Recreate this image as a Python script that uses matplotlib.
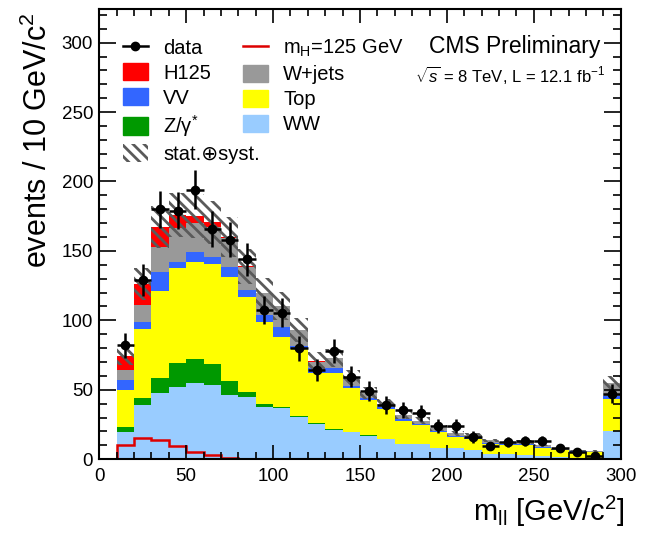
import numpy as np
import matplotlib.pyplot as plt
from matplotlib.lines import Line2D
from matplotlib.patches import Patch
from matplotlib.ticker import MultipleLocator

plt.rcParams['font.family'] = ['Liberation Sans', 'DejaVu Sans']
plt.rcParams['mathtext.fontset'] = 'custom'
plt.rcParams['mathtext.rm'] = 'Liberation Sans'
plt.rcParams['mathtext.it'] = 'Liberation Sans:italic'
plt.rcParams['hatch.linewidth'] = 2.0

# m_ll bins, 10 GeV wide, 0..300 (last bin holds the overflow)
edges = np.arange(0, 310, 10)

# background / signal yields per bin
ww = [0, 19.8, 39.1, 47.5, 51.8, 55.1, 53.5, 46.3, 45.0, 37.8,
      36.7, 30.5, 25.7, 21.4, 19.4, 16.8, 14.3, 10.8, 10.8, 7.8,
      7.8, 6.5, 4.1, 3.6, 2.9, 2.1, 1.6, 1.2, 1.0, 20.2]
zgamma = [0, 3.2, 4.9, 11.3, 17.3, 17.1, 14.9, 10.1, 3.6, 1.8,
          1.1, 0.6, 0.5, 0.4, 0.3, 0.3, 0.2, 0.2, 0.1, 0.1,
          0, 0, 0, 0, 0, 0, 0, 0, 0, 0]
top = [0, 26.9, 49.6, 62.4, 68.5, 70.1, 72.0, 75.1, 68.5, 59.5,
       50.0, 48.3, 36.2, 40.2, 31.3, 25.6, 21.4, 16.8, 13.8, 11.6,
       7.9, 8.0, 7.2, 6.5, 7.2, 6.3, 4.9, 4.3, 4.1, 23.2]
vv = [0, 7.3, 5.5, 13.3, 4.7, 7.2, 5.5, 6.8, 4.8, 4.9,
      7.2, 2.4, 3.1, 3.5, 2.0, 1.4, 1.4, 1.2, 0.7, 0.9,
      0.7, 0.8, 0.6, 0.7, 1.1, 0.5, 0.4, 0.3, 0.3, 2.4]
wjets = [0, 7.1, 12.0, 18.6, 24.1, 20.4, 21.6, 20.8, 16.7, 15.5,
         15.0, 11.0, 4.8, 7.5, 6.0, 3.4, 2.4, 2.8, 2.4, 1.9,
         2.2, 2.0, 1.8, 1.7, 1.2, 1.2, 0.8, 0.6, 0.5, 8.8]
h125 = [0, 10.2, 15.0, 14.0, 9.5, 5.5, 3.0, 1.0, 0.4, 0.3,
        0.2, 0.2, 0.5, 0.1, 0.1, 0.1, 0, 0, 0, 0,
        0, 0, 0, 0, 0, 0, 0, 0, 0, 0.2]
data = [0, 82, 129, 180, 179, 194, 166, 158, 144, 107.5,
        105.5, 80, 64, 78, 59.5, 49, 39, 35.5, 33.5, 24,
        24, 16, 9.4, 12.2, 13.2, 13.2, 8.1, 5.3, 2.4, 47]

syst_rel = 0.09  # half-width of the stat+syst band, relative

fig = plt.figure(figsize=(6.49, 5.34), dpi=100)
ax = fig.add_axes([0.153, 0.140, 0.8034, 0.8426])

# stacked from the bottom: WW, Z/gamma*, Top, VV, W+jets, H125
stack = [(ww, '#99ccff'), (zgamma, '#009900'), (top, '#ffff00'),
         (vv, '#3366ff'), (wjets, '#999999'), (h125, '#ff0000')]
base = np.zeros(len(edges) - 1)
for vals, col in stack:
    ax.stairs(base + np.array(vals), edges, baseline=base.copy(),
              fill=True, color=col, lw=0)
    base = base + np.array(vals)
total = base

# uncertainty band
ax.stairs(total * (1 + syst_rel), edges, baseline=total * (1 - syst_rel),
          fill=True, facecolor='none', edgecolor='#5a5a5a',
          hatch='\\\\\\', lw=0)

# signal alone
ax.stairs(h125, edges, color='#dd0000', lw=1.8)

# data
d = np.array(data)
centers = edges[:-1] + 5
m = d > 0
ax.errorbar(centers[m], d[m], xerr=5, yerr=np.sqrt(d[m]), fmt='o',
            color='k', ms=6, elinewidth=1.8, capsize=0, zorder=5)

ax.set_xlim(0, 300)
ax.set_ylim(0, 324)
ax.xaxis.set_major_locator(MultipleLocator(50))
ax.xaxis.set_minor_locator(MultipleLocator(10))
ax.yaxis.set_major_locator(MultipleLocator(50))
ax.yaxis.set_minor_locator(MultipleLocator(10))
ax.tick_params(which='both', direction='in', top=True, right=True,
               labelsize=13.5, width=1.2)
ax.tick_params(axis='x', which='major', length=10, pad=6)
ax.tick_params(axis='x', which='minor', length=5)
ax.tick_params(axis='y', which='major', length=12, pad=4.5)
ax.tick_params(axis='y', which='minor', length=6)
for sp in ax.spines.values():
    sp.set_linewidth(1.5)

fig.text(0.0585, 0.976, 'events / 10 GeV/c$^\\mathregular{2}$', rotation=90,
         ha='center', va='top', fontsize=22)
fig.text(0.963, 0.024, 'm$_\\mathregular{ll}$ [GeV/c$^\\mathregular{2}$]',
         ha='right', va='baseline', fontsize=21)

fig.text(0.7935, 0.912, 'CMS Preliminary', ha='center', va='center',
         fontsize=16.5)
fig.text(0.786, 0.859, '$\\sqrt{s}$ = 8 TeV, L = 12.1 fb$^\\mathregular{-1}$',
         ha='center', va='center', fontsize=12)

hatch_patch = Patch(facecolor='white', edgecolor='#5a5a5a', hatch='\\\\\\', lw=0)
h1 = [Line2D([], [], color='k', marker='o', ms=6, lw=1.8),
      Patch(color='#ff0000'), Patch(color='#3366ff'),
      Patch(color='#009900'), hatch_patch]
l1 = ['data', 'H125', 'VV', 'Z/γ$^\\mathregular{*}$', 'stat.⊕syst.']
h2 = [Line2D([], [], color='#dd0000', lw=1.8),
      Patch(color='#999999'), Patch(color='#ffff00'), Patch(color='#99ccff')]
l2 = ['m$_\\mathregular{H}$=125 GeV', 'W+jets', 'Top', 'WW']

kw = dict(loc='upper left', frameon=False, fontsize=14.5, borderpad=0,
          borderaxespad=0, handlelength=1.24, handleheight=0.95,
          handletextpad=0.75, labelspacing=0.27, bbox_transform=fig.transFigure)
leg1 = ax.legend(h1, l1, bbox_to_anchor=(0.1895, 0.929), **kw)
ax.add_artist(leg1)
ax.legend(h2, l2, bbox_to_anchor=(0.3744, 0.929), **kw)

fig.savefig('out.png', dpi=100)
